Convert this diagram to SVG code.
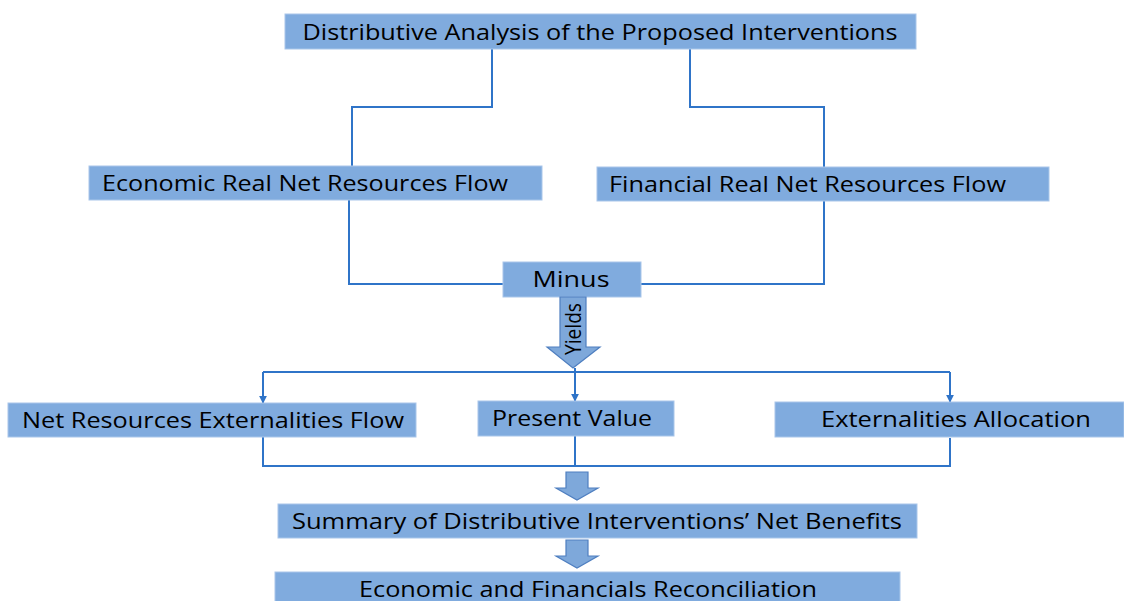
<svg xmlns="http://www.w3.org/2000/svg" width="1124" height="601" viewBox="0 0 1124 601">
<style>
.box{fill:#80ABDE;stroke:#A9C6EA;stroke-width:1}
.t{font-family:"Open Sans","Noto Sans",sans-serif;font-size:22px;fill:#000}
.c{text-anchor:middle}
.ln{fill:none;stroke:#2F74C8;stroke-width:2}
.blk{fill:#7EA8DA;stroke:#4F7FC0;stroke-width:1.2}
</style>
<defs>
<marker id="ah" viewBox="0 0 10 10" refX="9" refY="5" markerWidth="4" markerHeight="4" orient="auto" markerUnits="strokeWidth">
<path d="M0,0 L10,5 L0,10 z" fill="#2F74C8"/>
</marker>
</defs>
<rect width="1124" height="601" fill="#fff"/>
<g id="connectors">
<path class="ln" d="M492,49 V107 H352 V166"/>
<path class="ln" d="M690,49 V107 H824 V167"/>
<path class="ln" d="M349,200 V284 H503"/>
<path class="ln" d="M824,201 V284 H641"/>
<path class="ln" d="M263,372 H950"/>
<path class="ln" d="M263,372 V403" marker-end="url(#ah)"/>
<path class="ln" d="M575,368 V401" marker-end="url(#ah)"/>
<path class="ln" d="M950,372 V402" marker-end="url(#ah)"/>
<path class="ln" d="M263,437 V466 H950 V438"/>
<path class="ln" d="M575,436 V466"/>
</g>
<g id="n-top">
<rect class="box" x="285" y="14" width="631" height="35"/>
<text class="t c" x="600" y="40" textLength="595" lengthAdjust="spacingAndGlyphs">Distributive Analysis of the Proposed Interventions</text>
</g>
<g id="n-economic">
<rect class="box" x="89" y="166" width="453" height="34"/>
<text class="t" x="102" y="191" textLength="406" lengthAdjust="spacingAndGlyphs">Economic Real Net Resources Flow</text>
</g>
<g id="n-financial">
<rect class="box" x="597" y="167" width="452" height="34"/>
<text class="t" x="609" y="192" textLength="397" lengthAdjust="spacingAndGlyphs">Financial Real Net Resources Flow</text>
</g>
<g id="n-minus">
<rect class="box" x="503" y="262" width="138" height="35"/>
<text class="t c" x="571" y="287" textLength="77" lengthAdjust="spacingAndGlyphs">Minus</text>
</g>
<g id="n-yields">
<path class="blk" d="M560,297 H586 V347 H600 L573,368 L547,347 H560 Z"/>
<text class="t c" transform="translate(581,329) rotate(-90)" x="0" y="0" textLength="52" lengthAdjust="spacingAndGlyphs">Yields</text>
</g>
<g id="n-netres">
<rect class="box" x="8" y="403" width="408" height="34"/>
<text class="t c" x="213" y="428" textLength="382" lengthAdjust="spacingAndGlyphs">Net Resources Externalities Flow</text>
</g>
<g id="n-pv">
<rect class="box" x="478" y="401" width="196" height="35"/>
<text class="t c" x="572" y="426" textLength="160" lengthAdjust="spacingAndGlyphs">Present Value</text>
</g>
<g id="n-extalloc">
<rect class="box" x="775" y="402" width="349" height="35"/>
<text class="t c" x="956" y="427" textLength="270" lengthAdjust="spacingAndGlyphs">Externalities Allocation</text>
</g>
<g id="arrow1">
<path class="blk" d="M566,472 H588 V488 H598 L577,500 L556,488 H566 Z"/>
</g>
<g id="n-summary">
<rect class="box" x="278" y="504" width="639" height="34"/>
<text class="t c" x="597" y="529" textLength="610" lengthAdjust="spacingAndGlyphs">Summary of Distributive Interventions’ Net Benefits</text>
</g>
<g id="arrow2">
<path class="blk" d="M566,540 H588 V556 H598 L577,568 L556,556 H566 Z"/>
</g>
<g id="n-recon">
<rect class="box" x="275" y="572" width="625" height="35"/>
<text class="t c" x="588" y="597" textLength="458" lengthAdjust="spacingAndGlyphs">Economic and Financials Reconciliation</text>
</g>
</svg>
